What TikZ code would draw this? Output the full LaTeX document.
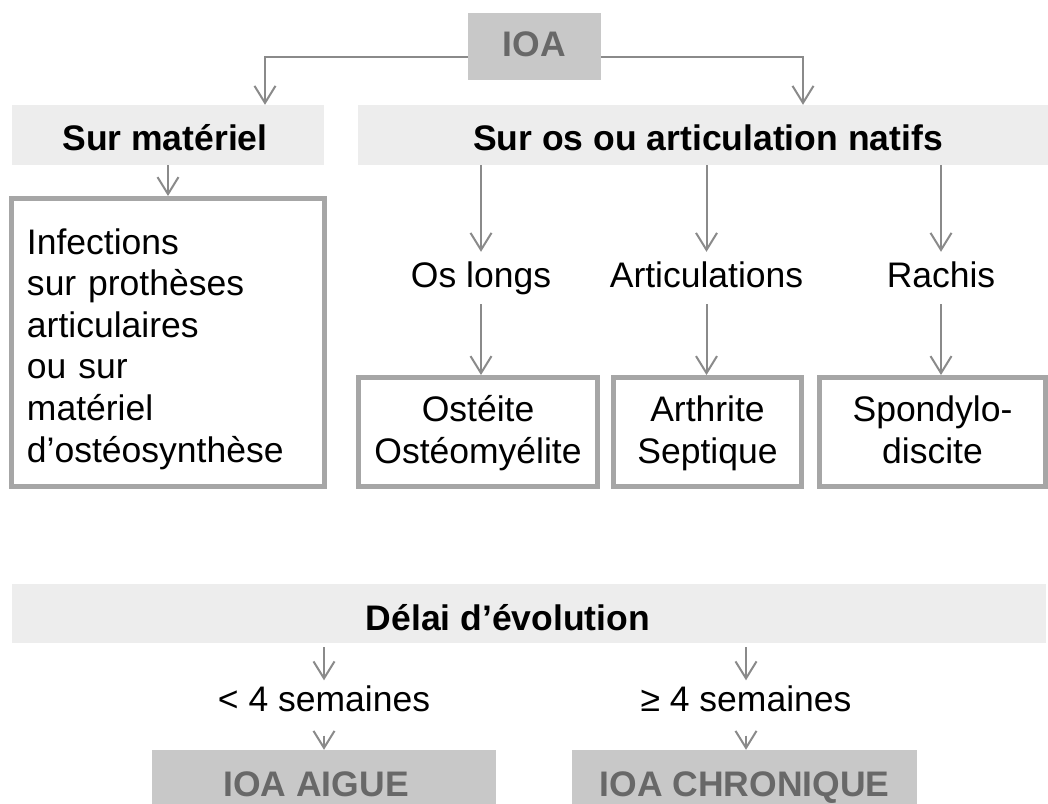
\documentclass[tikz,border=0pt]{standalone}
\usepackage{fontspec}
\setmainfont{Liberation Sans}
\usetikzlibrary{arrows.meta}
\definecolor{conncol}{HTML}{8A8A8A}
\definecolor{bordercol}{HTML}{A6A6A6}
\definecolor{lightfill}{HTML}{EDEDED}
\definecolor{darkfill}{HTML}{C8C8C8}
\definecolor{darktext}{HTML}{686868}
\begin{document}
\begin{tikzpicture}[x=1pt,y=-1pt,
  basefont/.style={font=\fontsize{35.5}{41.6}\selectfont},
  boldfont/.style={font=\fontsize{35.5}{41.6}\selectfont\bfseries},
  conn/.style={draw=conncol, line width=2pt, -{Straight Barb[length=17pt,width=21pt,line width=2pt]}},
  lightbox/.style={boldfont, fill=lightfill, draw=none, inner sep=0pt, text depth=0pt},
  darkbox/.style={boldfont, text=darktext, fill=darkfill, draw=none, inner sep=0pt, text depth=0pt},
  framebox/.style={basefont, draw=bordercol, line width=5pt, fill=white, inner sep=0pt, align=center},
  midlabel/.style={basefont, inner xsep=0pt, inner ysep=9pt, text height=26pt, text depth=8pt},
  durlabel/.style={basefont, inner xsep=0pt, inner ysep=5pt, text height=26pt, text depth=19pt}
]
\useasboundingbox (0,0) rectangle (1048,803);
\fill[white] (0,0) rectangle (1048,803);

% top
\node[darkbox, minimum width=133pt, minimum height=67pt, text height=19pt] (ioa) at (534.5,46.5) {IOA};
\node[lightbox, minimum width=312pt, minimum height=60pt, text height=30pt] (surmat) at (168,135) {Sur matériel\kern6pt};
\node[lightbox, minimum width=700pt, minimum height=60pt, text height=30pt] (suros) at (708,135) {Sur os ou articulation natifs};

\coordinate (xl) at (265,0);
\coordinate (xr) at (803,0);
\draw[conn] ([yshift=-10.5pt]ioa.west) -| (xl |- surmat.north);
\draw[conn] ([yshift=-10.5pt]ioa.east) -| (xr |- suros.north);

% left branch
\node[framebox, align=left, text width=282pt, minimum width=313pt, minimum height=288pt, text height=0pt, text depth=177pt] (infbox) at (168,342.5)
  {Infections\\sur prothèses\\articulaires\\ou sur\\matériel\\d’ostéosynthèse};
\draw[conn] (surmat.south) -- (infbox.north);

% middle labels
\node[midlabel] (oslongs) at (481,278) {Os longs};
\node[midlabel] (artic) at (706.5,278) {Articulations};
\node[midlabel] (rachis) at (941,278) {Rachis};

\draw[conn] (oslongs.north |- suros.south) -- (oslongs.north);
\draw[conn] (artic.north |- suros.south) -- (artic.north);
\draw[conn] (rachis.north |- suros.south) -- (rachis.north);

% bottom boxes of top part
\node[framebox, minimum width=239pt, minimum height=109pt, text height=62pt, text depth=0pt] (ost) at (478,432) {Ostéite\\Ostéomyélite};
\node[framebox, minimum width=188pt, minimum height=109pt, text height=62pt, text depth=0pt] (art) at (707.5,432) {Arthrite\\Septique};
\node[framebox, minimum width=226pt, minimum height=109pt, text height=62pt, text depth=0pt] (spo) at (932.5,432) {Spondylo-\\discite};

\draw[conn] (oslongs.south) -- (oslongs.south |- ost.north);
\draw[conn] (artic.south) -- (artic.south |- art.north);
\draw[conn] (rachis.south) -- (rachis.south |- spo.north);

% delay part
\node[lightbox, minimum width=1034pt, minimum height=59pt, text height=33pt] (delai) at (529,613.5) {Délai d’évolution\kern42pt};
\node[durlabel] (lt4) at (324,708) {< 4 semaines};
\node[durlabel] (ge4) at (746,708) {≥ 4 semaines};
\node[darkbox, minimum width=344pt, minimum height=56pt, text height=36pt] (aigue) at (324,778) {IOA AIGUE\kern16pt};
\node[darkbox, minimum width=345pt, minimum height=56pt, text height=36pt] (chron) at (744.5,778) {IOA CHRONIQUE};

\draw[conn, shorten <=4pt] (delai.south -| lt4.north) -- (lt4.north);
\draw[conn, shorten <=4pt] (delai.south -| ge4.north) -- (ge4.north);
\draw[conn] (lt4.south) -- (lt4.south |- aigue.north);
\draw[conn] (ge4.south) -- (ge4.south |- chron.north);
\end{tikzpicture}
\end{document}
